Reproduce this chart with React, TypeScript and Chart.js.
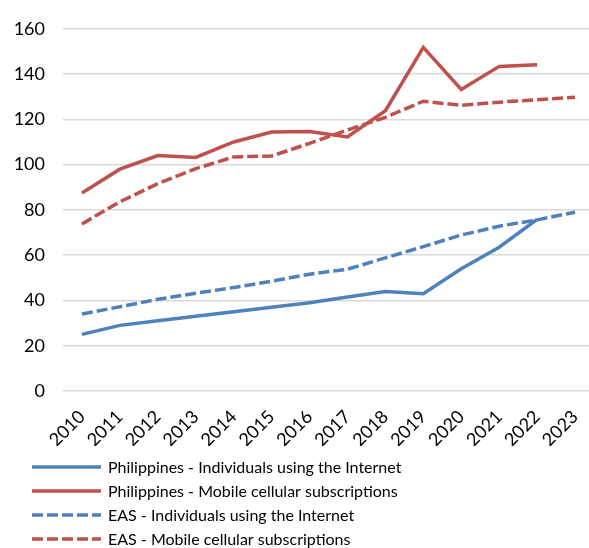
import React, { useEffect, useRef } from "react";
import { Chart, registerables } from "chart.js";

Chart.register(...registerables);

const years = ["2010", "2011", "2012", "2013", "2014", "2015", "2016", "2017", "2018", "2019", "2020", "2021", "2022", "2023"];
const phInternet = [25, 29, 31, 33, 35, 37, 39, 41.5, 44, 43, 54, 63.5, 75.8, null];
const phMobile = [87.5, 98, 104, 103.2, 110, 114.4, 114.6, 112.2, 123.8, 151.8, 133.2, 143.4, 144.1, null];
const easInternet = [34, 37.2, 40.5, 43.2, 45.7, 48.5, 51.6, 53.8, 58.8, 63.8, 68.9, 72.8, 75.6, 79];
const easMobile = [73.8, 83.6, 91.6, 98.2, 103.4, 103.8, 109.4, 115.3, 120.9, 128, 126.2, 127.6, 128.7, 129.8];
const seriesNames = [
  "Philippines - Individuals using the Internet",
  "Philippines - Mobile cellular subscriptions",
  "EAS - Individuals using the Internet",
  "EAS - Mobile cellular subscriptions",
];

const BLUE = "#4F81BD";
const RED = "#C0504D";
const FONT = "Lato, 'Open Sans', sans-serif";
const DASH = [11, 4];

const legendPlugin = {
  id: "customLegend",
  afterDraw(chart: any) {
    const ctx = chart.ctx;
    const startY = 467;
    const step = 24;
    ctx.save();
    chart.data.datasets.forEach((ds: any, i: number) => {
      const y = startY + i * step;
      ctx.beginPath();
      ctx.strokeStyle = ds.borderColor;
      ctx.lineWidth = ds.borderWidth;
      ctx.lineCap = "butt";
      ctx.setLineDash(ds.borderDash || []);
      ctx.moveTo(32, y);
      ctx.lineTo(101, y);
      ctx.stroke();
      ctx.setLineDash([]);
      ctx.fillStyle = "#000";
      ctx.font = `16px ${FONT}`;
      ctx.textAlign = "left";
      ctx.textBaseline = "middle";
      ctx.fillText(ds.label, 108, y + 1);
    });
    ctx.restore();
  },
};

export default function App() {
  const ref = useRef<HTMLCanvasElement>(null);
  useEffect(() => {
    if (!ref.current) return;
    const chart = new Chart(ref.current, {
      type: "line",
      data: {
        labels: years,
        datasets: [
          { label: seriesNames[0], data: phInternet, borderColor: BLUE, borderWidth: 3.5, pointRadius: 0, tension: 0 },
          { label: seriesNames[1], data: phMobile, borderColor: RED, borderWidth: 3.5, pointRadius: 0, tension: 0 },
          { label: seriesNames[2], data: easInternet, borderColor: BLUE, borderWidth: 3.5, borderDash: DASH, pointRadius: 0, tension: 0 },
          { label: seriesNames[3], data: easMobile, borderColor: RED, borderWidth: 3.5, borderDash: DASH, pointRadius: 0, tension: 0 },
        ],
      },
      options: {
        animation: false,
        responsive: false,
        maintainAspectRatio: false,
        layout: { padding: { top: 25, left: 0, right: 0, bottom: 102 } },
        plugins: { legend: { display: false }, tooltip: { enabled: false } },
        scales: {
          x: {
            offset: true,
            grid: { display: false, drawTicks: false },
            border: { display: false },
            ticks: {
              color: "#000",
              font: { family: FONT, size: 18 },
              minRotation: 45,
              maxRotation: 45,
              autoSkip: false,
              padding: 15,
            },
            afterFit(scale: any) {
              scale.height = 55;
              scale.paddingLeft = 0;
              scale.paddingRight = 0;
            },
          },
          y: {
            min: 0,
            max: 160,
            grid: { color: "#D9D9D9", lineWidth: 1.5, drawTicks: false },
            border: { display: false },
            ticks: {
              stepSize: 20,
              color: "#000",
              font: { family: FONT, size: 18 },
              padding: 18,
            },
            afterFit(scale: any) {
              scale.width = 63;
            },
          },
        },
      },
      plugins: [legendPlugin],
    });
    return () => chart.destroy();
  }, []);
  return (
    <div style={{ position: "fixed", left: 0, top: 0, width: 589, height: 548, overflow: "hidden", background: "#fff" }}>
      <canvas ref={ref} width={594} height={548} style={{ width: 594, height: 548, display: "block" }} />
    </div>
  );
}
